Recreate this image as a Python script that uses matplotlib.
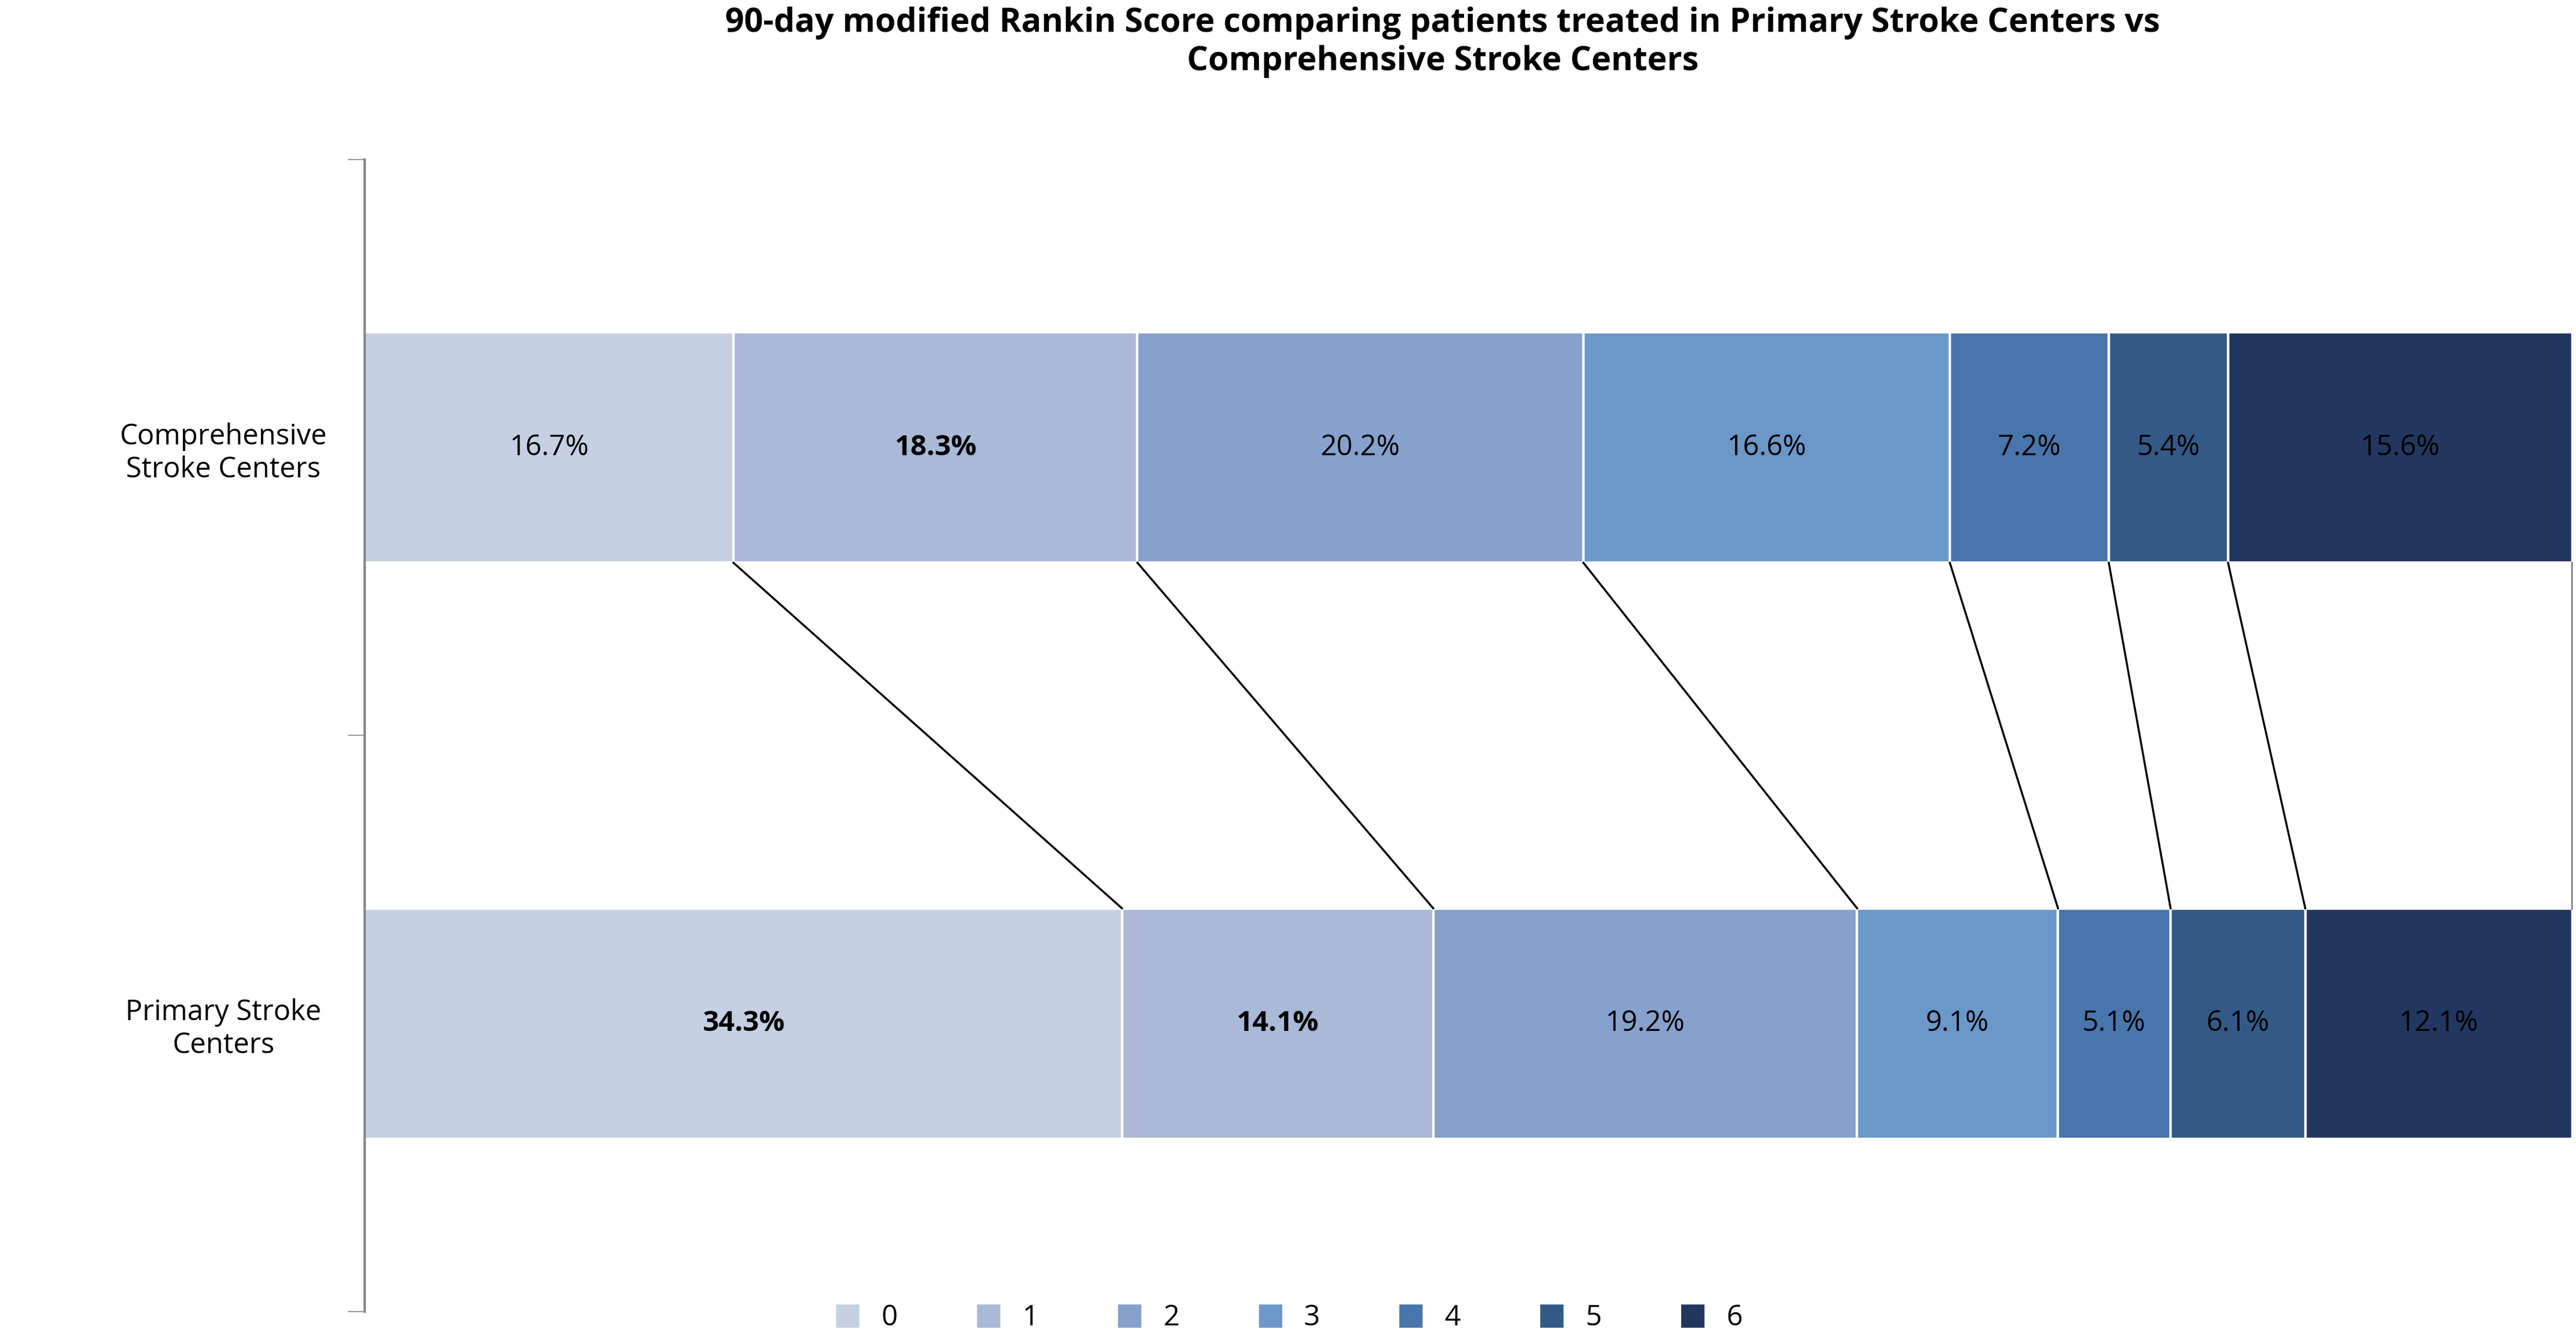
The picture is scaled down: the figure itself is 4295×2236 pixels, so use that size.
import matplotlib
matplotlib.use("Agg")
import matplotlib.pyplot as plt
import numpy as np
from matplotlib.lines import Line2D

categories = ["Primary Stroke\nCenters", "Comprehensive\nStroke Centers"]
scores = ["0", "1", "2", "3", "4", "5", "6"]
psc = [34.3, 14.1, 19.2, 9.1, 5.1, 6.1, 12.1]
csc = [16.7, 18.3, 20.2, 16.6, 7.2, 5.4, 15.6]
bold_psc = [True, True, False, False, False, False, False]
bold_csc = [False, True, False, False, False, False, False]
colors = ["#C5D0E3", "#A9B9D7", "#86A1CB", "#6B97C9", "#4875AC", "#335A87", "#22375F"]

plt.rcParams['font.family'] = ['Open Sans', 'DejaVu Sans']
fig = plt.figure(figsize=(21.475, 11.18), dpi=200)
ax = fig.add_axes([0.1416, 0.022, 0.857, 0.859])
h = 0.4
data = [psc, csc]
bolds = [bold_psc, bold_csc]
for yi, (vals, bl) in enumerate(zip(data, bolds)):
    left = 0
    for i, v in enumerate(vals):
        ax.barh(yi, v, left=left, height=h, color=colors[i], edgecolor="white", linewidth=1.5)
        ax.text(left + v / 2, yi, f"{v}%", ha="center", va="center", fontsize=17,
                fontweight="bold" if bl[i] else "normal", color="black")
        left += v
cp = np.cumsum(psc)
cc = np.cumsum(csc)
for i in range(len(scores)):
    ax.plot([cc[i], cp[i]], [1 - h / 2, h / 2], color="black", lw=1.2)

ax.set_xlim(0, 100)
ax.set_ylim(-0.5, 1.5)
ax.set_yticks([0, 1])
ax.set_yticklabels(categories, fontsize=17, ha="center")
ax.tick_params(axis="y", length=0, pad=85)
ax.set_yticks([-0.5, 0.5, 1.5], minor=True)
ax.tick_params(axis="y", which="minor", length=10, color="#888888", direction="out")
ax.set_xticks([])
for s in ["top", "right", "bottom"]:
    ax.spines[s].set_visible(False)
ax.spines["left"].set_color("#888888")
ax.spines["left"].set_linewidth(1.5)

handles = [Line2D([0], [0], marker="s", linestyle="none", markersize=13, color=c) for c in colors]
ax.legend(handles, scores, loc="lower center", bbox_to_anchor=(0.415, -0.04), ncol=7, frameon=False,
          fontsize=17, handletextpad=0.2, columnspacing=2.2)
fig.suptitle("90-day modified Rankin Score comparing patients treated in Primary Stroke Centers vs\nComprehensive Stroke Centers",
             fontsize=20, fontweight="bold", x=0.56, y=0.995)
fig.savefig("out.png", dpi=200)
